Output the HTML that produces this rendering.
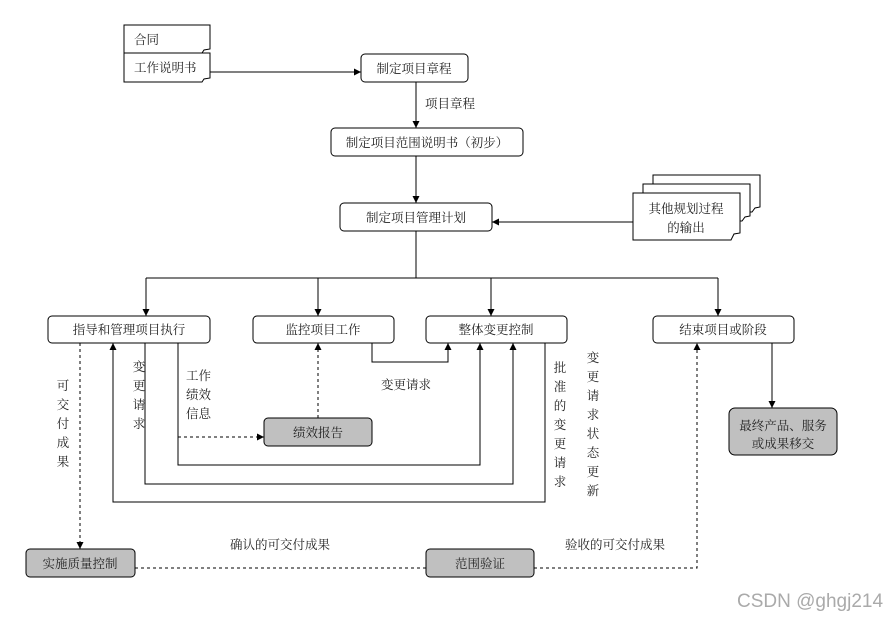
<!DOCTYPE html>
<html><head><meta charset="utf-8"><style>
html,body{margin:0;padding:0;background:#fff;width:894px;height:620px;overflow:hidden}
svg text{font-family:"Liberation Serif","Noto Serif CJK SC","Noto Sans CJK SC",serif;font-size:12.5px;fill:#222}
</style></head><body>
<svg width="894" height="620" viewBox="0 0 894 620" xmlns="http://www.w3.org/2000/svg">
<defs>
<marker id="a" viewBox="0 0 10 10" refX="10" refY="5" markerWidth="7" markerHeight="7" orient="auto-start-reverse" markerUnits="userSpaceOnUse"><path d="M0,0L10,5L0,10z" fill="#000"/></marker>
</defs>
<g fill="#fff" stroke="#000" stroke-width="1">
<!-- docs top-left -->
<path d="M124,25H210V49L204,50L202,53H124Z"/>
<path d="M124,53H210V78L204,79L202,82H124Z"/>
<!-- stacked docs -->
<path d="M653,175H760V207L755,208L752,212H653Z"/>
<path d="M643,184H750V216L745,217L742,221H643Z"/>
<path d="M633,193H740V233L734,234L731,240H633Z"/>
</g>
<g fill="#fff" stroke="#000" stroke-width="1">
<rect x="361" y="54" width="107" height="28" rx="4"/>
<rect x="331" y="128" width="192" height="28" rx="4"/>
<rect x="340" y="203" width="152" height="28" rx="4"/>
<rect x="48" y="316" width="162" height="27" rx="4"/>
<rect x="253" y="316" width="141" height="27" rx="4"/>
<rect x="426" y="316" width="141" height="27" rx="4"/>
<rect x="653" y="316" width="141" height="27" rx="4"/>
</g>
<g fill="#c0c0c0" stroke="#000" stroke-width="1">
<rect x="264" y="418" width="108" height="28" rx="4"/>
<rect x="729" y="408" width="108" height="47" rx="6"/>
<rect x="26" y="549" width="109" height="28" rx="4"/>
<rect x="426" y="549" width="108" height="28" rx="4"/>
</g>
<g fill="none" stroke="#000" stroke-width="1">
<path d="M210,72H361" marker-end="url(#a)"/>
<path d="M416,82V128" marker-end="url(#a)"/>
<path d="M416,156V203" marker-end="url(#a)"/>
<path d="M633,222H492" marker-end="url(#a)"/>
<path d="M416,231V278M146,278H718"/>
<path d="M146,278V316" marker-end="url(#a)"/>
<path d="M318,278V316" marker-end="url(#a)"/>
<path d="M491,278V316" marker-end="url(#a)"/>
<path d="M718,278V316" marker-end="url(#a)"/>
<path d="M772,343V408" marker-end="url(#a)"/>
<path d="M372,343V362H448V343" marker-end="url(#a)"/>
<path d="M178,343V465H480V343" marker-end="url(#a)"/>
<path d="M145,343V484H513V343" marker-end="url(#a)"/>
<path d="M545,343V502H113V343" marker-end="url(#a)"/>
</g>
<g fill="none" stroke="#000" stroke-width="1" stroke-dasharray="3,3">
<path d="M80,343V549" marker-end="url(#a)"/>
<path d="M178,437H264" marker-end="url(#a)"/>
<path d="M318,418V343" marker-end="url(#a)"/>
<path d="M135,568H426"/>
<path d="M534,568H697V343" marker-end="url(#a)"/>
</g>
<text x="134" y="44">合同</text>
<text x="134" y="72">工作说明书</text>
<text x="414" y="73" text-anchor="middle">制定项目章程</text>
<text x="425" y="108">项目章程</text>
<text x="427" y="147" text-anchor="middle">制定项目范围说明书（初步）</text>
<text x="416" y="222" text-anchor="middle">制定项目管理计划</text>
<text x="686" y="213" text-anchor="middle">其他规划过程</text>
<text x="686" y="232" text-anchor="middle">的输出</text>
<text x="129" y="334" text-anchor="middle">指导和管理项目执行</text>
<text x="323" y="334" text-anchor="middle">监控项目工作</text>
<text x="496" y="334" text-anchor="middle">整体变更控制</text>
<text x="723" y="334" text-anchor="middle">结束项目或阶段</text>
<text x="318" y="437" text-anchor="middle">绩效报告</text>
<text x="783" y="430" text-anchor="middle">最终产品、服务</text>
<text x="783" y="448" text-anchor="middle">或成果移交</text>
<text x="80" y="568" text-anchor="middle">实施质量控制</text>
<text x="480" y="568" text-anchor="middle">范围验证</text>
<text x="230" y="549">确认的可交付成果</text>
<text x="565" y="549">验收的可交付成果</text>
<text x="381" y="389">变更请求</text>
<text x="186" y="380">工作</text>
<text x="186" y="399">绩效</text>
<text x="186" y="418">信息</text>
<g text-anchor="middle">
<text x="63" y="390">可</text><text x="63" y="409">交</text><text x="63" y="428">付</text><text x="63" y="447">成</text><text x="63" y="466">果</text>
<text x="139" y="371">变</text><text x="139" y="390">更</text><text x="139" y="409">请</text><text x="139" y="428">求</text>
<text x="560" y="372">批</text><text x="560" y="391">准</text><text x="560" y="410">的</text><text x="560" y="429">变</text><text x="560" y="448">更</text><text x="560" y="467">请</text><text x="560" y="486">求</text>
<text x="593" y="362">变</text><text x="593" y="381">更</text><text x="593" y="400">请</text><text x="593" y="419">求</text><text x="593" y="438">状</text><text x="593" y="457">态</text><text x="593" y="476">更</text><text x="593" y="495">新</text>
</g>
<text x="737" y="607" style="font-family:'Liberation Sans','Noto Sans CJK SC',sans-serif;font-size:19px;fill:#aaa">CSDN @ghgj214</text>
</svg>
</body></html>
